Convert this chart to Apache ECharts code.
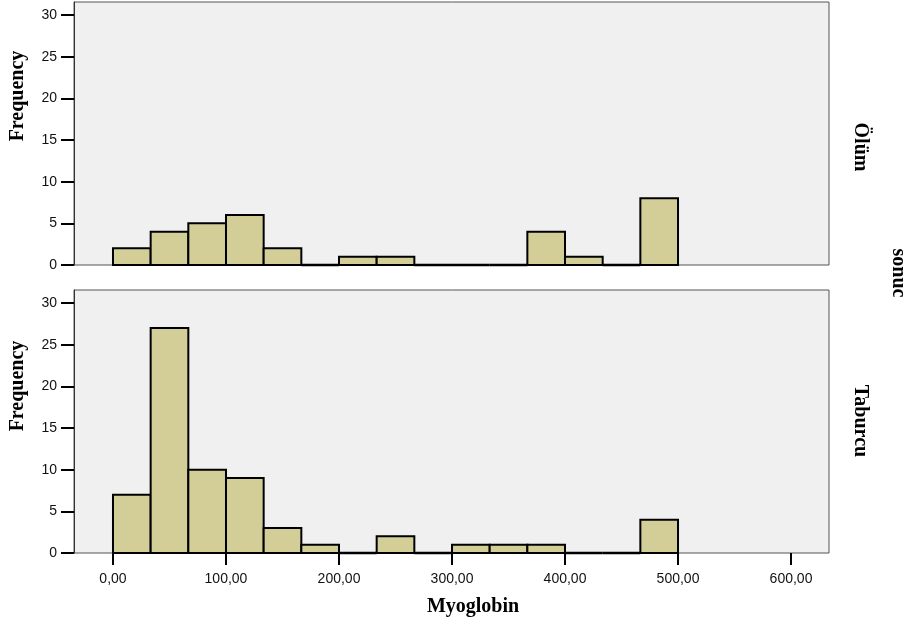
<!DOCTYPE html>
<html lang="tr">
<head>
    <meta charset="UTF-8">
    <title>Myoglobin</title>
    <script src="https://cdn.jsdelivr.net/npm/echarts@6/dist/echarts.min.js"></script>
</head>
<body style="margin:0;">

<div id="wrap" style="width: 910px; height: 627px;"></div>

<script>
    // histogram counts, 15 bins of width 100/3 starting at 0
    var binStart = 0;
    var binWidth = 100 / 3;
    var olumCounts = [2, 4, 5, 6, 2, 0, 1, 1, 0, 0, 0, 4, 1, 0, 8];
    var taburcuCounts = [7, 27, 10, 9, 3, 1, 0, 2, 0, 1, 1, 1, 0, 0, 4];
    var panelNames = ['Ölüm', 'Taburcu'];
    var xTicks = [0, 100, 200, 300, 400, 500, 600];
    var yTicks = [0, 5, 10, 15, 20, 25, 30];

    function toBins(counts) {
        return counts.map(function (c, i) {
            return [binStart + i * binWidth, binStart + (i + 1) * binWidth, c];
        });
    }

    function renderBar(params, api) {
        var x0 = api.value(0), x1 = api.value(1), c = api.value(2);
        var p0 = api.coord([x0, c]);
        var p1 = api.coord([x1, 0]);
        if (c === 0) {
            return {
                type: 'line',
                shape: {x1: p0[0], y1: p1[1], x2: p1[0], y2: p1[1]},
                style: {stroke: '#000', lineWidth: 2.5}
            };
        }
        return {
            type: 'rect',
            shape: {x: p0[0], y: p0[1], width: p1[0] - p0[0], height: p1[1] - p0[1]},
            style: {fill: '#d3ce98', stroke: '#000', lineWidth: 2}
        };
    }

    var myChart = echarts.init(document.getElementById('wrap'));

    var tickFont = {fontFamily: '"Liberation Sans", Arial, sans-serif', fontSize: 14, color: '#111'};
    var boldSerif = '"Liberation Serif", "Times New Roman", serif';

    function yAxis(idx) {
        return {
            type: 'value', gridIndex: idx, min: 0, max: 31.56,
            axisLine: {show: true, onZero: false, lineStyle: {color: '#333', width: 1}},
            axisTick: {show: true, length: 13, customValues: yTicks, lineStyle: {color: '#000', width: 2}},
            axisLabel: Object.assign({margin: 17, customValues: yTicks}, tickFont),
            splitLine: {show: false}
        };
    }

    function xAxis(idx, showLabels) {
        return {
            type: 'value', gridIndex: idx, min: -34.5, max: 633.6,
            axisLine: {show: false, onZero: false},
            axisTick: {show: showLabels, length: 12, customValues: xTicks, lineStyle: {color: '#000', width: 2}},
            axisLabel: Object.assign({
                show: showLabels, margin: 19, customValues: xTicks,
                formatter: function (v) { return v.toFixed(2).replace('.', ','); }
            }, tickFont),
            splitLine: {show: false}
        };
    }

    function label(text, x, y, rot) {
        return {type: 'text', x: x, y: y, rotation: rot,
            style: {text: text, font: 'bold 20px ' + boldSerif, fill: '#000', align: 'center', verticalAlign: 'middle'}};
    }

    var option = {
        animation: false,
        grid: [
            {left: 74, top: 2, width: 755, height: 263, show: true, backgroundColor: '#f0f0f0', borderColor: '#555', borderWidth: 1},
            {left: 74, top: 290, width: 755, height: 263, show: true, backgroundColor: '#f0f0f0', borderColor: '#555', borderWidth: 1}
        ],
        xAxis: [xAxis(0, false), xAxis(1, true)],
        yAxis: [yAxis(0), yAxis(1)],
        series: [
            {name: panelNames[0], type: 'custom', xAxisIndex: 0, yAxisIndex: 0, renderItem: renderBar, data: toBins(olumCounts)},
            {name: panelNames[1], type: 'custom', xAxisIndex: 1, yAxisIndex: 1, renderItem: renderBar, data: toBins(taburcuCounts)}
        ],
        graphic: [
            label('Frequency', 18, 96, Math.PI / 2),
            label('Frequency', 18, 386, Math.PI / 2),
            label('Myoglobin', 473, 607, 0),
            label(panelNames[0], 860, 147, -Math.PI / 2),
            label(panelNames[1], 860, 421, -Math.PI / 2),
            label('sonuc', 898, 273, -Math.PI / 2)
        ]
    };

    myChart.setOption(option);
</script>
</body>
</html>
